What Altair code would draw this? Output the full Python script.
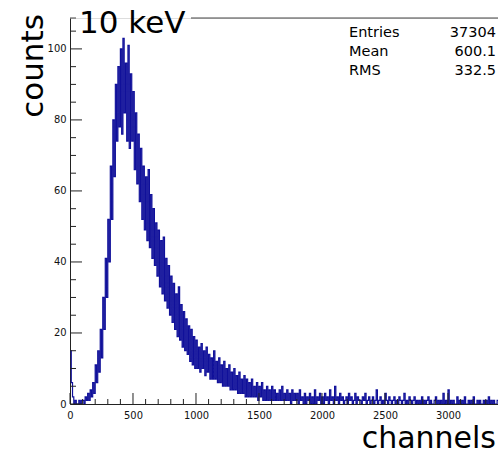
import altair as alt
import pandas as pd

# Histogram contents, one value per 10-channel group (counts per channel)
counts_0_500 = [15, 6, 2, 0, 1, 0, 0, 1, 0, 1,
                1, 0, 2, 1, 3, 1, 4, 2, 6, 3,
                11, 6, 15, 9, 21, 13, 30, 21, 41, 30,
                52, 40, 67, 52, 80, 64, 90, 74, 95, 78,
                100, 76, 103, 82, 96, 74, 101, 72, 93, 74]
counts_500_1000 = [88, 66, 82, 62, 76, 57, 72, 52, 67, 49,
                   64, 46, 66, 44, 59, 41, 55, 39, 51, 36,
                   49, 33, 46, 31, 47, 29, 41, 27, 39, 25,
                   36, 23, 34, 21, 31, 19, 33, 18, 28, 16,
                   26, 15, 24, 14, 22, 12, 21, 11, 19, 10]
counts_1000_2000 = [18, 10, 16, 9, 17, 10, 15, 8, 16, 9,
                    14, 7, 13, 7, 15, 7, 12, 6, 13, 6,
                    11, 5, 12, 5, 10, 5, 11, 4, 9, 4,
                    10, 4, 8, 3, 9, 3, 7, 3, 8, 2,
                    7, 2, 6, 2, 7, 2, 5, 2, 6, 1,
                    5, 2, 6, 1, 4, 1, 5, 1, 4, 1,
                    5, 1, 4, 1, 3, 1, 4, 1, 5, 1,
                    3, 1, 4, 1, 3, 0, 4, 1, 3, 1,
                    3, 0, 4, 1, 2, 0, 3, 0, 2, 1,
                    3, 0, 2, 0, 4, 0, 2, 1, 3, 0]
counts_2000_3400 = [2, 0, 3, 1, 2, 0, 4, 1, 2, 0,
                    5, 1, 2, 0, 3, 1, 2, 0, 1, 2,
                    0, 3, 1, 2, 0, 1, 3, 0, 2, 1,
                    1, 0, 2, 1, 3, 0, 1, 2, 0, 1,
                    2, 0, 1, 4, 0, 1, 2, 0, 1, 0,
                    3, 1, 0, 2, 1, 0, 1, 2, 0, 1,
                    0, 2, 1, 0, 1, 3, 0, 1, 0, 2,
                    1, 0, 1, 2, 0, 1, 0, 1, 0, 2,
                    0, 1, 0, 1, 2, 0, 1, 0, 0, 1,
                    2, 0, 1, 0, 1, 0, 3, 0, 1, 0,
                    4, 0, 1, 0, 1, 0, 0, 2, 0, 1,
                    0, 1, 0, 2, 0, 0, 1, 0, 1, 0,
                    2, 0, 0, 1, 0, 1, 0, 0, 1, 0,
                    1, 0, 2, 0, 1, 0, 1, 0, 0, 1]
bin_width = 10

x_major = [0, 500, 1000, 1500, 2000, 2500, 3000]
x_minor = [v for v in range(100, 3400, 100) if v % 500 != 0]
y_major = [0, 20, 40, 60, 80, 100]
y_minor = [v for v in range(5, 109, 5) if v % 20 != 0]

title_text = "10 keV"
x_title = "channels"
y_title = "counts"
stats_labels = ["Entries", "Mean", "RMS"]
stats_values = ["37304", "600.1", "332.5"]

W, H = 428, 386
X_DOMAIN = [0, 3397]
Y_DOMAIN = [0, 108.7]
LINE = "#10109a"
FONT = "DejaVu Sans"
LFONT = "DejaVu Sans Condensed, Liberation Sans Narrow, Liberation Sans"

counts = counts_0_500 + counts_500_1000 + counts_1000_2000 + counts_2000_3400
hist = pd.DataFrame({"channel": [i * bin_width for i in range(len(counts))] + [len(counts) * bin_width],
                     "count": counts + [counts[-1]]})

xs = alt.Scale(domain=X_DOMAIN, nice=False, zero=False)
ys = alt.Scale(domain=Y_DOMAIN, nice=False)

xaxis = alt.Axis(values=x_major, ticks=False, grid=False, domain=True, domainColor="#222",
                 labelFont=LFONT, labelFontSize=11, labelColor="#111", labelPadding=5,
                 labelFlush=False, labelOverlap=False, title=None, format="d")
yaxis = alt.Axis(values=y_major, ticks=False, grid=False, domain=True, domainColor="#222",
                 labelFont=LFONT, labelFontSize=11, labelColor="#111", labelPadding=4,
                 labelFlush=False, labelOverlap=False, title=None, format="d")

line = alt.Chart(hist).mark_line(interpolate="step-after", color=LINE, strokeWidth=1.2, clip=True).encode(
    x=alt.X("channel:Q", scale=xs, axis=xaxis),
    y=alt.Y("count:Q", scale=ys, axis=yaxis),
)

xmaj = alt.Chart(pd.DataFrame({"v": x_major})).mark_rule(color="#222", strokeWidth=1).encode(
    x=alt.X("v:Q", scale=xs), y=alt.value(H), y2=alt.value(H - 11))
xmin = alt.Chart(pd.DataFrame({"v": x_minor})).mark_rule(color="#222", strokeWidth=1).encode(
    x=alt.X("v:Q", scale=xs), y=alt.value(H), y2=alt.value(H - 5))
ymaj = alt.Chart(pd.DataFrame({"v": y_major})).mark_rule(color="#222", strokeWidth=1).encode(
    y=alt.Y("v:Q", scale=ys), x=alt.value(0), x2=alt.value(12))
ymin = alt.Chart(pd.DataFrame({"v": y_minor})).mark_rule(color="#222", strokeWidth=1).encode(
    y=alt.Y("v:Q", scale=ys), x=alt.value(0), x2=alt.value(6))

top1 = alt.Chart(pd.DataFrame({"a": [0]})).mark_rule(color="#444", strokeWidth=1).encode(
    x=alt.value(0), x2=alt.value(6), y=alt.value(0))
top2 = alt.Chart(pd.DataFrame({"a": [0]})).mark_rule(color="#444", strokeWidth=1).encode(
    x=alt.value(121), x2=alt.value(W), y=alt.value(0))

def txt(s, x, y, size, align="left", angle=0, font=FONT):
    kw = dict(font=font, fontSize=size, align=align, baseline="alphabetic", color="black")
    if angle:
        kw["angle"] = angle
    return alt.Chart(pd.DataFrame({"t": [s]})).mark_text(**kw).encode(
        text="t:N", x=alt.value(x), y=alt.value(y))

layers = [line, xmaj, xmin, ymaj, ymin, top1, top2,
          txt(title_text, 9, 15, 31),
          txt(x_title, W - 2, 430, 30, align="right"),
          txt(y_title, -27, 48, 31, align="center", angle=270)]
for i, (lab, val) in enumerate(zip(stats_labels, stats_values)):
    layers.append(txt(lab, 279, 19 + i * 19, 14.5))
    layers.append(txt(val, 426, 19 + i * 19, 14.5, align="right"))

chart = alt.layer(*layers).properties(
    width=W, height=H,
    autosize=alt.AutoSizeParams(type="none"),
    padding={"left": 70, "top": 18, "right": 0, "bottom": 46},
).configure_view(stroke=None).configure(background="white")

chart.save("out.html", embed_options={"renderer": "svg", "actions": False})
